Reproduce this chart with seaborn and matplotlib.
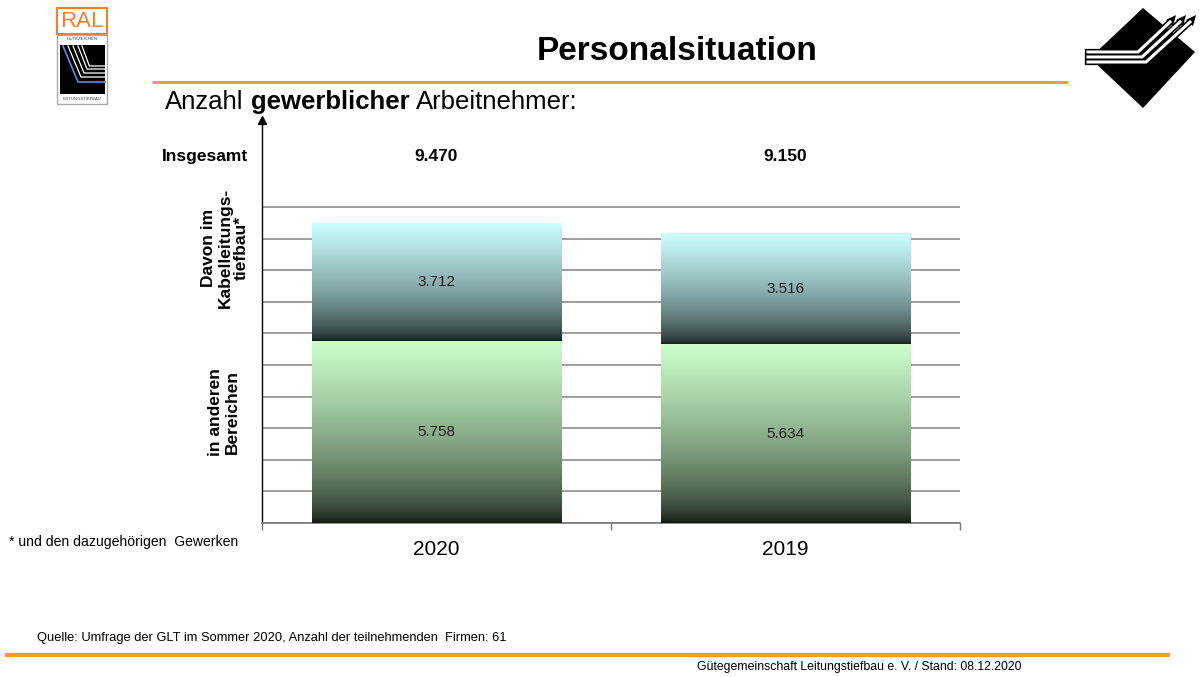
import matplotlib
matplotlib.use("Agg")
import matplotlib.pyplot as plt
import numpy as np
import pandas as pd
import seaborn as sns
from matplotlib.patches import Polygon, Rectangle

# values
years = ["2020", "2019"]
kabel = [3712, 3516]      # davon im Kabelleitungstiefbau
andere = [5758, 5634]     # in anderen Bereichen
totals = [9470, 9150]     # Insgesamt
grid_ticks = list(range(0, 11000, 1000))

W, H = 1200, 677
ORANGE = "#f99d1c"


def de(n):
    return f"{n:,}".replace(",", ".")


def vgrad(top, bottom, n=256, gamma=0.6):
    t = (np.linspace(0, 1, n) ** gamma)[:, None]
    c = np.array(bottom) * (1 - t) + np.array(top) * t
    return c[:, None, :]


plt.rcParams["font.family"] = ["Liberation Sans", "DejaVu Sans"]

fig = plt.figure(figsize=(12, 6.77), dpi=100)
deco = fig.add_axes([0, 0, 1, 1])
deco.set_xlim(0, W)
deco.set_ylim(H, 0)
deco.axis("off")

ax = fig.add_axes([262 / W, 1 - 523 / H, (960 - 262) / W, (523 - 120) / H])
ax.set_facecolor("none")
df = pd.DataFrame({"Jahr": years, "Kabel": kabel, "Andere": andere, "Gesamt": totals})
sns.barplot(data=df, x="Jahr", y="Gesamt", color="#ccffff", width=0.714,
            errorbar=None, ax=ax, zorder=2, linewidth=0)
sns.barplot(data=df, x="Jahr", y="Andere", color="#ccffcc", width=0.714,
            errorbar=None, ax=ax, zorder=2, linewidth=0)

n = len(years)
tot_bars, low_bars = ax.patches[:n], ax.patches[n:2 * n]
for tp, bp in zip(tot_bars, low_bars):
    x0, x1 = tp.get_x(), tp.get_x() + tp.get_width()
    ax.imshow(vgrad((0.80, 1.0, 1.0), (0.06, 0.09, 0.09)), origin="lower",
              extent=[x0, x1, bp.get_height(), tp.get_height()],
              aspect="auto", interpolation="bilinear", zorder=3)
    ax.imshow(vgrad((0.80, 1.0, 0.80), (0.06, 0.08, 0.06)), origin="lower",
              extent=[x0, x1, 0, bp.get_height()],
              aspect="auto", interpolation="bilinear", zorder=3)

for i in range(n):
    ax.text(i, andere[i] / 2, de(andere[i]), ha="center", va="center",
            fontsize=11, color="#1a1a1a", zorder=4)
    ax.text(i, andere[i] + kabel[i] / 2, de(kabel[i]), ha="center", va="center",
            fontsize=11, color="#1a1a1a", zorder=4)
    ax.text(i, 11580, de(totals[i]), ha="center", va="center",
            fontsize=12.5, fontweight="bold", color="black")

ax.set_xlim(-0.5, n - 0.5)
ax.set_ylim(0, 12750)
ax.set_yticks(grid_ticks)
ax.yaxis.grid(True, color="#8c8c8c", lw=1.2)
ax.set_axisbelow(True)
ax.tick_params(axis="y", length=0, labelleft=False)
ax.set_xticks(range(n))
ax.set_xticklabels(years, fontsize=15)
ax.tick_params(axis="x", which="major", length=0, pad=12)
ax.set_xticks([-0.5, 0.5, 1.5], minor=True)
ax.tick_params(axis="x", which="minor", length=5, width=1, color="#777777", direction="out")
ax.set_xlabel("")
ax.set_ylabel("")
for s in ("top", "right"):
    ax.spines[s].set_visible(False)
ax.spines["left"].set_color("black")
ax.spines["left"].set_linewidth(1)
ax.spines["bottom"].set_color("#777777")
ax.spines["bottom"].set_linewidth(1.2)
ax.plot([0], [1], marker="^", color="black", ms=6, transform=ax.transAxes, clip_on=False)

# header
deco.text(677, 52, "Personalsituation", ha="center", va="center",
          fontsize=24, fontweight="bold")
deco.plot([152, 1068], [82, 82], color=ORANGE, lw=2.2, solid_capstyle="butt")
t1 = deco.text(165, 109, "Anzahl", fontsize=18.5, va="baseline")
t2 = deco.annotate("gewerblicher", xy=(1, 0), xycoords=t1, xytext=(7, 0),
                   textcoords="offset pixels", fontsize=18.5, fontweight="bold", va="bottom")
deco.annotate("Arbeitnehmer:", xy=(1, 0), xycoords=t2, xytext=(7, 0),
              textcoords="offset pixels", fontsize=18.5, va="bottom")

# row labels
deco.text(205, 157, "Insgesamt", ha="center", va="center", fontsize=12.5, fontweight="bold")
deco.text(225, 248, "Davon im\nKabelleitungs-\ntiefbau*", rotation=90, ha="center",
          va="center", multialignment="center", fontsize=12.5, fontweight="bold",
          linespacing=1.1)
deco.text(224, 412, "in anderen\nBereichen", rotation=90, ha="center", va="center",
          multialignment="center", fontsize=12.5, fontweight="bold", linespacing=1.1)

# footer
deco.text(9, 542, "* und den dazugehörigen  Gewerken", fontsize=10.1, va="center")
deco.text(37, 638, "Quelle: Umfrage der GLT im Sommer 2020, Anzahl der teilnehmenden  Firmen: 61",
          fontsize=9.25, va="center")
deco.plot([5, 1170], [655, 655], color=ORANGE, lw=3, solid_capstyle="butt")
deco.text(697, 667, "Gütegemeinschaft Leitungstiefbau e. V. / Stand: 08.12.2020",
          fontsize=8.8, va="center")

# RAL logo (left)
deco.add_patch(Rectangle((57, 8), 50, 26, fill=False, ec="#f47d30", lw=1.5))
deco.text(82, 21.5, "RAL", ha="center", va="center", color="#f47d30", fontsize=16)
deco.text(82, 38.5, "GÜTEZEICHEN", ha="center", va="center", fontsize=3.2, color="#444444")
deco.add_patch(Rectangle((57, 35), 50, 69, fill=False, ec="#aaaaaa", lw=1))
deco.add_patch(Rectangle((60, 45), 45, 49, fc="black", ec="none"))
deco.plot([63, 78, 105], [46, 82, 82], color="#5b8ee6", lw=1.2)
for dx, dy in [(5, -5), (10, -9), (15, -13), (19, -16)]:
    deco.plot([63 + dx, 78 + dx * 0.6, 105], [46, 82 + dy, 82 + dy], color="white", lw=0.9)
deco.text(82, 99, "LEITUNGSTIEFBAU", ha="center", va="center", fontsize=3, color="#444444")

# GLT logo (right)
deco.add_patch(Polygon([(1143, 8), (1195, 52), (1143, 108), (1090, 58)], closed=True,
                       fc="black", ec="none"))
for k in range(3):
    xs = [1088, 1138 + 4 * k, 1170 + 10 * k]
    ys = [52 + 5 * k, 52 + 5 * k, 22]
    deco.plot(xs, ys, color="black", lw=4.5, solid_joinstyle="miter")
    deco.plot(xs, ys, color="white", lw=2.2, solid_joinstyle="miter")
    deco.add_patch(Polygon([(1166 + 10 * k, 20), (1176 + 10 * k, 15), (1173 + 10 * k, 26)],
                           closed=True, fc="black", ec="none"))

fig.savefig("out.png", dpi=100)
